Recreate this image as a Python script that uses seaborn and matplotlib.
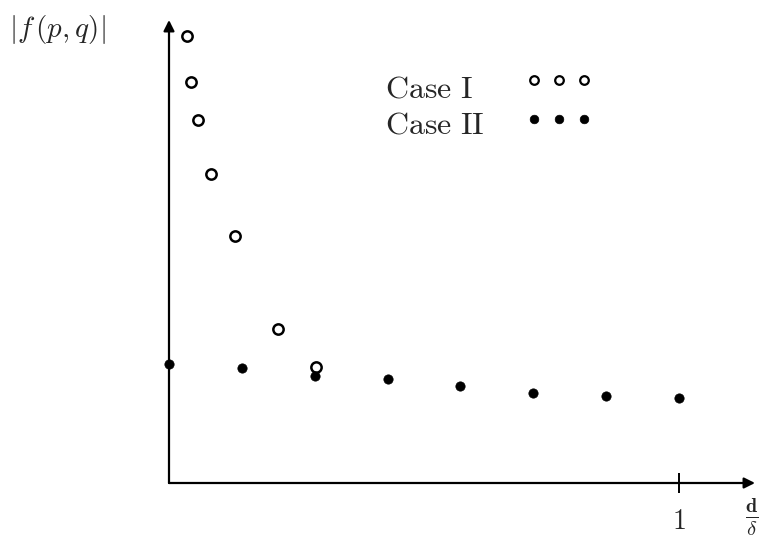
import numpy as np
import pandas as pd
import seaborn as sns
import matplotlib
matplotlib.use('Agg')
from matplotlib import pyplot as plt

# values (y in arbitrary units)
case1_x = [0.035, 0.043, 0.057, 0.082, 0.129, 0.214, 0.288]
case1_y = [447, 401, 363, 309, 247, 154, 116]
case2_x = [0.0, 0.143, 0.286, 0.429, 0.571, 0.714, 0.857, 1.0]
case2_y = [119, 115, 107, 104, 97, 90, 87, 85]
x_ticks = [1]
x_tick_labels = ['1']
legend_labels = ['Case I', 'Case II']

sns.set_theme(style='white')
plt.rcParams['mathtext.fontset'] = 'cm'
plt.rcParams['font.family'] = ['DejaVu Serif']

df1 = pd.DataFrame({'x': case1_x, 'y': case1_y})
df2 = pd.DataFrame({'x': case2_x, 'y': case2_y})

W, H = 759, 546
fig = plt.figure(figsize=(W / 100, H / 100), dpi=100)
ax = fig.add_axes([169 / W, 63 / H, (755 - 169) / W, 463 / H])

open_style = dict(marker='o', facecolor='white', edgecolor='black', linewidth=1.8)
fill_style = dict(marker='o', color='black', edgecolor='black', linewidth=0.5)

sns.scatterplot(data=df1, x='x', y='y', ax=ax, s=55, clip_on=False,
                zorder=3, legend=False, **open_style)
sns.scatterplot(data=df2, x='x', y='y', ax=ax, s=45, clip_on=False,
                zorder=3, legend=False, **fill_style)

ax.set_xlim(0, 1.149)
ax.set_ylim(0, 463)
for sp in ax.spines.values():
    sp.set_visible(False)

# axes drawn as arrows
arrow = dict(arrowstyle='-|>', lw=1.6, color='black', mutation_scale=16,
             shrinkA=0, shrinkB=0)
ax.annotate('', xy=(1.149, 0), xytext=(0, 0), arrowprops=arrow, annotation_clip=False)
ax.annotate('', xy=(0, 463), xytext=(0, 0), arrowprops=arrow, annotation_clip=False)

ax.set_xticks(x_ticks)
ax.set_xticklabels([r'$\mathbf{' + t + '}$' for t in x_tick_labels], fontsize=20)
ax.set_yticks([])
ax.tick_params(axis='x', direction='inout', length=14, width=1.4,
               color='black', pad=11, bottom=True)
ax.set_xlabel('')
ax.set_ylabel('')

fig.text(57 / W, 1 - 30 / H, r'$|f\,(p,q)|$', fontsize=21,
         ha='center', va='center')
fig.text(752 / W, 1 - 517 / H, r'$\mathbf{\frac{d}{\delta}}$', fontsize=21,
         ha='center', va='center')

# hand-made legend: label on the left, three markers on the right
for lab, base, mark_y, style in [(legend_labels[0], 97, 80, open_style),
                                 (legend_labels[1], 133, 119, fill_style)]:
    fig.text(385 / W, 1 - base / H, r'$\mathrm{' + lab.replace(' ', r'\ ') + '}$',
             fontsize=23, ha='left', va='baseline')
    fig.add_artist(plt.Line2D([534 / W, 559 / W, 584 / W], [1 - mark_y / H] * 3,
                              transform=fig.transFigure, linestyle='none',
                              marker='o', markersize=6.2,
                              markerfacecolor=style.get('facecolor', 'black'),
                              markeredgecolor='black',
                              markeredgewidth=1.6 if 'facecolor' in style else 0.5))

fig.savefig('out.png', dpi=100)
